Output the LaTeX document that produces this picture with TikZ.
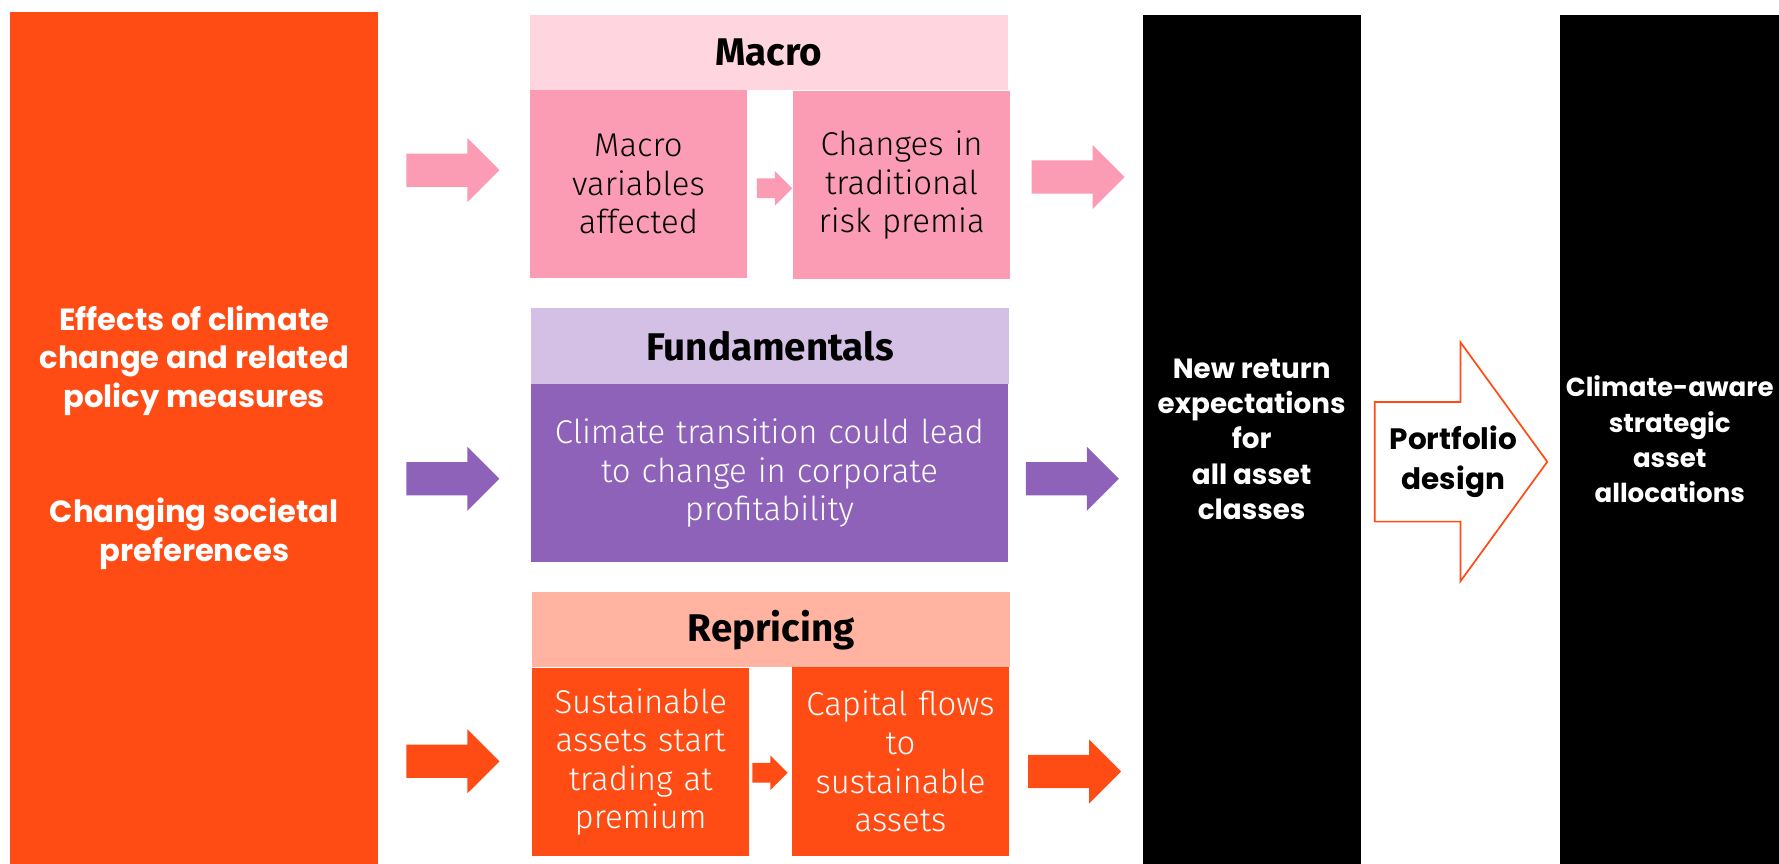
\documentclass[tikz,border=0pt]{standalone}
\usepackage{fontspec}
\setmainfont{Fira Sans}
\newfontfamily\lightfont{Fira Sans Light}
\newfontfamily\widefont{Poppins}
\usetikzlibrary{shapes.arrows,positioning}

\definecolor{bkorange}{HTML}{FF4B14}
\definecolor{pinklight}{HTML}{FFD6DF}
\definecolor{pink}{HTML}{FB9BB4}
\definecolor{lavender}{HTML}{D4BFE5}
\definecolor{purple}{HTML}{8F62BA}
\definecolor{salmon}{HTML}{FFB3A0}

\begin{document}
\begin{tikzpicture}[x=1pt,y=-1pt]
  \tikzset{
    bar/.style={
      rectangle,
      fill=black,
      text=white,
      anchor=north west,
      inner sep=0pt,
      align=center,
      font=\widefont\bfseries\fontsize{24.5}{31}\selectfont
    },
    head/.style={
      rectangle,
      anchor=north west,
      inner sep=0pt,
      minimum width=421pt,
      minimum height=66pt,
      font=\bfseries\fontsize{34}{34}\selectfont
    },
    cell/.style={
      rectangle,
      anchor=north west,
      inner sep=0pt,
      align=center,
      minimum width=191pt,
      minimum height=166pt,
      text width=188pt,
      font=\lightfont\fontsize{29}{34}\selectfont
    },
    fat/.style={
      single arrow,
      anchor=tail,
      inner xsep=0pt,
      inner ysep=14.5pt,
      minimum height=82pt,
      single arrow head extend=13.5pt,
      single arrow tip angle=90
    },
    slim/.style={
      fat,
      inner ysep=8.5pt,
      minimum height=31pt,
      single arrow head extend=6.5pt
    }
  }

  \path[use as bounding box, fill=white] (0,0) rectangle (1568,761);

  % drivers on the left
  \node[bar, fill=bkorange, minimum width=324pt, minimum height=751pt,
    font=\widefont\bfseries\fontsize{27}{34}\selectfont] (effects) at (9,10)
    {Effects of climate\\change and related\\policy measures\\[68pt]Changing societal\\preferences};

  % macro channel
  \node[head, fill=pinklight] (macrohead) at (467,13) {Macro};
  \node[cell, fill=pink, minimum height=165pt] (macrovars) at (macrohead.south west) {Macro\\variables\\affected};
  \node[cell, fill=pink] (premia) at (699,80) {Changes in\\traditional\\risk premia};

  % fundamentals channel
  \node[head, fill=lavender, minimum height=67pt] (fundhead) at (468,271) {Fundamentals};
  \node[cell, fill=purple, text=white, minimum width=420pt, minimum height=157pt, text width=400pt]
    (fundbody) at (fundhead.south west) {Climate transition could lead\\to change in corporate\\profitability};

  % repricing channel
  \node[head, fill=salmon] (reprhead) at (469,522) {Repricing};
  \node[cell, fill=bkorange, text=white] (premium) at (reprhead.south west) {Sustainable\\assets start\\trading at\\premium};
  \node[cell, fill=bkorange, text=white] (flows) at (698,588) {Capital flows\\to\\sustainable\\assets};

  % outcomes
  \node[bar, minimum width=192pt, minimum height=748pt] (returns) at (1007,13)
    {New return\\expectations\\for\\all asset\\classes};
  \node[bar, minimum width=193pt, minimum height=748pt,
    font=\widefont\bfseries\fontsize{23}{31}\selectfont] (saa) at (1375,13)
    {Climate-aware\\strategic\\asset\\allocations};

  % block arrows
  \node[fat, fill=pink] (tomacro) at (358,150) {};
  \node[fat, fill=purple] (tofund) at (358,422) {};
  \node[fat, fill=bkorange] (torepr) at (358,671) {};
  \node[slim, fill=pink] (macrostep) at (667,166) {};
  \node[slim, fill=bkorange] (reprstep) at (663,681) {};
  \node[fat, fill=pink] (macroout) at (909,156) {};
  \node[fat, fill=purple] (fundout) at (904,422) {};
  \node[fat, fill=bkorange] (reprout) at (906,680) {};

  \node[fat, fill=white, draw=bkorange, line width=1.5pt, inner ysep=52pt, minimum height=152pt,
    single arrow head extend=52.5pt, single arrow tip angle=108] (design) at (1211,407) {};
  \node[font=\widefont\bfseries\fontsize{26}{36}\selectfont, align=center] (designtext) at (1281,407)
    {Portfolio\\design};

\end{tikzpicture}
\end{document}
